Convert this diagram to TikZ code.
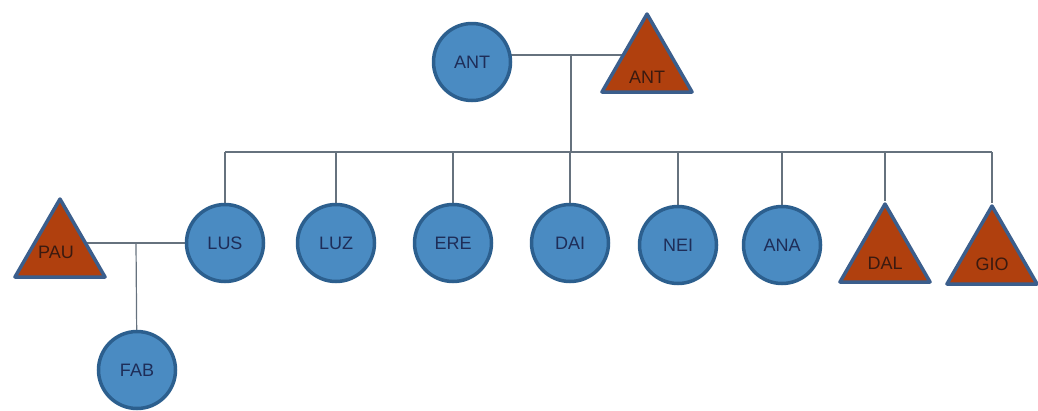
\documentclass[tikz,border=0pt]{standalone}
\usepackage{fontspec}
\setmainfont{Liberation Sans}
\usetikzlibrary{shapes.geometric,backgrounds}
\definecolor{cfill}{HTML}{4A8BC2}
\definecolor{cline}{HTML}{2C5F8E}
\definecolor{tfill}{HTML}{B0400E}
\definecolor{tline}{HTML}{3B5E8C}
\definecolor{ctext}{HTML}{1E2D58}
\definecolor{ttext}{HTML}{3A1A10}
\definecolor{lnk}{HTML}{66727E}
\tikzset{
  person/.style={circle, draw=cline, fill=cfill, line width=3.5pt, minimum size=77pt, inner sep=0pt,
    text=ctext, font=\fontsize{18}{18}\selectfont},
  male/.style={regular polygon, regular polygon sides=3, draw=tline, fill=tfill, line width=3.5pt,
    line join=round, minimum size=104pt, inner sep=0pt},
  tlabel/.style={text=ttext, font=\fontsize{18}{18}\selectfont},
  link/.style={draw=lnk, line width=1.2pt}
}
\begin{document}
\begin{tikzpicture}[x=1pt,y=-1pt]
\useasboundingbox (0,0) rectangle (1038,410);
% top couple
\node[person] (antC) at (472,62) {ANT};
\node[male] (antT) at (647,66) {};
\node[tlabel] (antTl) at (647,77) {ANT};
% children
\node[person] (lus) at (225,243) {LUS};
\node[person] (luz) at (336,243) {LUZ};
\node[person] (ere) at (453,243) {ERE};
\node[person] (dai) at (570,243) {DAI};
\node[person] (nei) at (678,245) {NEI};
\node[person] (ana) at (782,245) {ANA};
\node[male] (dal) at (885,256) {};
\node[tlabel] (dall) at (885,263) {DAL};
\node[male] (gio) at (992,258) {};
\node[tlabel] (giol) at (992,264) {GIO};
% LUS family
\node[male] (pau) at (60,251) {};
\node[tlabel] (paul) at (56,252) {PAU};
\node[person] (fab) at (137,370) {FAB};
% connectors
\coordinate (m1) at (571,55);
\coordinate (bar) at (571,152);
\coordinate (m2) at (136,243);
\begin{scope}[on background layer]
\draw[link] (antC |- m1) -- (antT |- m1);
\draw[link] (m1) -- (bar);
\draw[link] (lus |- bar) -- (gio |- bar);
\foreach \c in {lus,luz,ere,dai,nei,ana,dal,gio} {\draw[link] (\c |- bar) -- (\c);}
\draw[link] (pau |- m2) -- (lus);
\draw[link] (m2) -- (fab);
\end{scope}
\end{tikzpicture}
\end{document}
